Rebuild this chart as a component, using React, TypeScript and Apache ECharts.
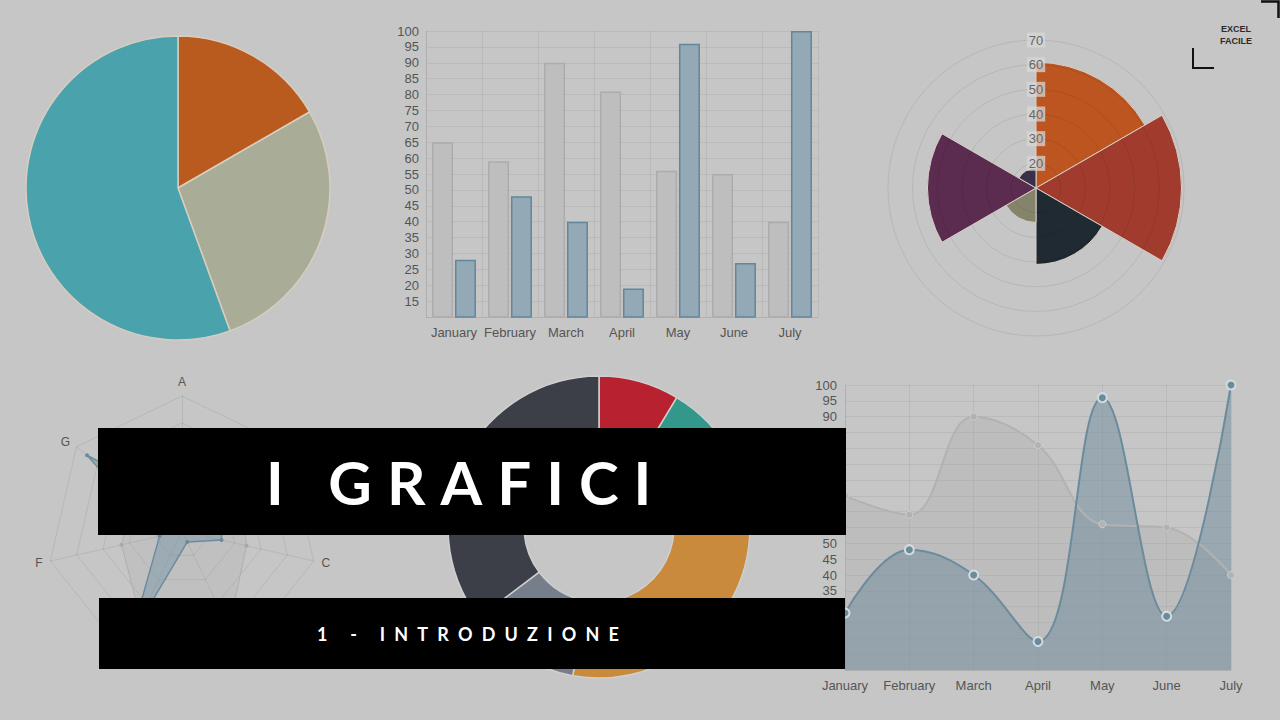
import {useEffect, useRef} from 'react';
import * as echarts from 'echarts';
import type {EChartsOption} from 'echarts';

// same two datasets used by the bar and the line chart
const months = ['January', 'February', 'March', 'April', 'May', 'June', 'July'];
const greyValues = [65, 59, 90, 81, 56, 55, 40];
const blueValues = [28, 48, 40, 19, 96, 27, 100];

// pie, clockwise from 12 o'clock
const pieNames = ['Arancio', 'Sabbia', 'Turchese'];
const pieValues = [30, 50, 100];
const pieColors = ['#b95b1f', '#a9ac97', '#4aa2ad'];

// polar area, clockwise from 12 o'clock
const polarNames = ['Arancio', 'Rosso', 'Blu notte', 'Oliva', 'Viola', 'Prugna'];
const polarValues = [61, 69, 41, 24, 54, 18];
const polarColors = ['#bc5520', '#a13b2e', '#1f2a33', '#85846a', '#5b2c4f', '#3a2f49'];

// radar, clockwise from A
const radarNames = ['A', 'B', 'C', 'D', 'E', 'F', 'G'];
const radarGrey = [40, 65, 59, 90, 81, 56, 55];
const radarBlue = [28, 48, 40, 19, 96, 27, 100];

// doughnut, clockwise from 12 o'clock
const donutNames = ['Rosso', 'Verde', 'Giallo', 'Grigio', 'Grigio scuro'];
const donutValues = [31, 30, 129, 43, 127];
const donutColors = ['#b8212f', '#33978b', '#c98a3c', '#767e8b', '#3d3f48'];

const letterSpacing: Record<string, number> = {
    'I GRAFICI': 15,
    '1 - INTRODUZIONE': 9.2,
};

const labelColor = '#555';
const faint = 'rgba(0,0,0,0.06)';

const App = () => {
    const chartRef = useRef<HTMLDivElement>(null);

    useEffect(() => {
        if (!chartRef.current) return;
        const el = chartRef.current;
        const chart = echarts.init(el, null, {renderer: 'svg'});

        // echarts' radar goes counter-clockwise, so feed it A, G, F, ... B
        const radarOrder = [0, 6, 5, 4, 3, 2, 1];

        const option: EChartsOption = {
            animation: false,
            backgroundColor: '#c6c6c6',
            textStyle: {fontFamily: '"Liberation Sans", Arial, sans-serif'},
            grid: [
                {left: 426, right: 462, top: 31, bottom: 403},
                {left: 845, right: 49, top: 385, bottom: 50},
            ],
            xAxis: [
                {
                    type: 'category',
                    gridIndex: 0,
                    data: months,
                    axisLine: {lineStyle: {color: '#b0b0b0'}},
                    axisTick: {show: false},
                    axisLabel: {color: labelColor, fontSize: 13, margin: 9, interval: 0},
                    splitLine: {show: true, lineStyle: {color: faint}},
                },
                {
                    type: 'category',
                    gridIndex: 1,
                    data: months,
                    boundaryGap: false,
                    axisLine: {lineStyle: {color: '#b0b0b0'}},
                    axisTick: {show: false},
                    axisLabel: {color: labelColor, fontSize: 13, margin: 9, interval: 0},
                    splitLine: {show: true, lineStyle: {color: faint}},
                },
            ],
            yAxis: [
                {
                    type: 'value',
                    gridIndex: 0,
                    min: 10,
                    max: 100,
                    interval: 5,
                    axisLine: {show: true, lineStyle: {color: '#b0b0b0'}},
                    axisTick: {show: false},
                    axisLabel: {color: labelColor, fontSize: 13, margin: 7, showMinLabel: false},
                    splitLine: {lineStyle: {color: faint}},
                },
                {
                    type: 'value',
                    gridIndex: 1,
                    min: 10,
                    max: 100,
                    interval: 5,
                    axisLine: {show: true, lineStyle: {color: '#b0b0b0'}},
                    axisTick: {show: false},
                    axisLabel: {color: labelColor, fontSize: 13, margin: 8, showMinLabel: false},
                    splitLine: {lineStyle: {color: faint}},
                },
            ],
            polar: {center: [1036, 188], radius: 148},
            angleAxis: {
                type: 'category',
                data: polarNames,
                startAngle: 90,
                axisLine: {show: false},
                axisTick: {show: false},
                axisLabel: {show: false},
                splitLine: {show: false},
            },
            radiusAxis: {
                min: 10,
                max: 70,
                interval: 10,
                z: 10,
                axisLine: {show: false},
                axisTick: {show: false},
                splitLine: {show: true, lineStyle: {color: 'rgba(0,0,0,0.08)'}},
                axisLabel: {
                    showMinLabel: false,
                    color: '#666',
                    fontSize: 13,
                    margin: 0,
                    align: 'center',
                    backgroundColor: 'rgba(215,215,215,0.75)',
                    padding: [1, 2],
                },
            },
            radar: {
                center: [182, 531],
                radius: 135,
                startAngle: 90,
                splitNumber: 5,
                shape: 'polygon',
                nameGap: 8,
                indicator: radarOrder.map((i) => ({name: radarNames[i], min: 10, max: 110})),
                axisName: {color: labelColor, fontSize: 12},
                axisLine: {lineStyle: {color: 'rgba(0,0,0,0.08)'}},
                splitLine: {lineStyle: {color: 'rgba(0,0,0,0.08)'}},
                splitArea: {show: false},
            },
            series: [
                {
                    type: 'pie',
                    center: [178, 188],
                    radius: 152,
                    startAngle: 90,
                    silent: true,
                    label: {show: false},
                    itemStyle: {borderColor: '#d8cdbf', borderWidth: 1.5},
                    data: pieNames.map((name, i) => ({name, value: pieValues[i], itemStyle: {color: pieColors[i]}})),
                },
                {
                    type: 'bar',
                    xAxisIndex: 0,
                    yAxisIndex: 0,
                    data: greyValues,
                    barWidth: 21,
                    barGap: '9%',
                    itemStyle: {color: '#bebebe', borderColor: '#acacac', borderWidth: 1.5},
                },
                {
                    type: 'bar',
                    xAxisIndex: 0,
                    yAxisIndex: 0,
                    data: blueValues,
                    barWidth: 21,
                    barGap: '9%',
                    itemStyle: {color: '#93a9b6', borderColor: '#62869a', borderWidth: 1.5},
                },
                {
                    type: 'bar',
                    coordinateSystem: 'polar',
                    barCategoryGap: '0%',
                    itemStyle: {borderColor: '#d8d0c8', borderWidth: 1},
                    data: polarValues.map((value, i) => ({value, itemStyle: {color: polarColors[i]}})),
                },
                {
                    type: 'radar',
                    symbol: 'circle',
                    symbolSize: 4,
                    data: [
                        {
                            value: radarOrder.map((i) => radarGrey[i]),
                            lineStyle: {color: '#b0b0b0', width: 1},
                            itemStyle: {color: '#a8a8a8'},
                            areaStyle: {color: 'rgba(170,170,170,0.3)'},
                        },
                        {
                            value: radarOrder.map((i) => radarBlue[i]),
                            lineStyle: {color: '#6b8b9d', width: 1.5},
                            itemStyle: {color: '#6b8b9d'},
                            areaStyle: {color: 'rgba(110,145,165,0.6)'},
                        },
                    ],
                },
                {
                    type: 'pie',
                    center: [599, 527],
                    radius: [75, 151],
                    startAngle: 90,
                    silent: true,
                    label: {show: false},
                    itemStyle: {borderColor: '#cfcfcf', borderWidth: 1.5},
                    data: donutNames.map((name, i) => ({name, value: donutValues[i], itemStyle: {color: donutColors[i]}})),
                },
                {
                    type: 'line',
                    xAxisIndex: 1,
                    yAxisIndex: 1,
                    data: greyValues,
                    smooth: 0.4,
                    symbol: 'circle',
                    symbolSize: 7,
                    lineStyle: {color: '#b2b2b2', width: 2},
                    itemStyle: {color: '#b2b2b2', borderColor: '#cdcdcd', borderWidth: 1},
                    areaStyle: {color: 'rgba(170,170,170,0.45)'},
                },
                {
                    type: 'line',
                    xAxisIndex: 1,
                    yAxisIndex: 1,
                    data: blueValues,
                    smooth: 0.4,
                    symbol: 'circle',
                    symbolSize: 9,
                    lineStyle: {color: '#6b8b9d', width: 2},
                    itemStyle: {color: '#6b8b9d', borderColor: '#d3dce1', borderWidth: 2},
                    areaStyle: {color: 'rgba(108,138,156,0.7)'},
                },
            ],
            graphic: [
                {type: 'rect', z: 100, shape: {x: 98, y: 428, width: 748, height: 107}, style: {fill: '#000'}},
                {
                    type: 'text',
                    z: 101,
                    x: 266,
                    y: 482,
                    style: {
                        text: 'I GRAFICI',
                        fill: '#fff',
                        font: 'bold 60px Lato, "Open Sans", sans-serif',
                        textAlign: 'left',
                        textVerticalAlign: 'middle',
                    },
                },
                {type: 'rect', z: 100, shape: {x: 99, y: 598, width: 746, height: 71}, style: {fill: '#000'}},
                {
                    type: 'text',
                    z: 101,
                    x: 317,
                    y: 634,
                    style: {
                        text: '1 - INTRODUZIONE',
                        fill: '#fff',
                        font: 'bold 18px Lato, "Open Sans", sans-serif',
                        textAlign: 'left',
                        textVerticalAlign: 'middle',
                    },
                },
                {
                    type: 'text',
                    z: 101,
                    x: 1236,
                    y: 29,
                    style: {text: 'EXCEL', fill: '#2a2a2a', font: 'bold 9px "Liberation Sans", sans-serif', textAlign: 'center', textVerticalAlign: 'middle'},
                },
                {
                    type: 'text',
                    z: 101,
                    x: 1236,
                    y: 41,
                    style: {text: 'FACILE', fill: '#2a2a2a', font: 'bold 9px "Liberation Sans", sans-serif', textAlign: 'center', textVerticalAlign: 'middle'},
                },
                {
                    type: 'polyline',
                    z: 101,
                    shape: {points: [[1193, 48], [1193, 68], [1214, 68]]},
                    style: {stroke: '#111', lineWidth: 2, fill: 'none'},
                },
                {
                    type: 'polyline',
                    z: 101,
                    shape: {points: [[1261, 1.5], [1278.5, 1.5], [1278.5, 18]]},
                    style: {stroke: '#111', lineWidth: 2.5, fill: 'none'},
                },
            ],
        };

        // zrender has no letter spacing, so widen the two banner titles in the svg
        const spaceLetters = () => {
            el.querySelectorAll('text').forEach((t) => {
                const s = letterSpacing[t.textContent ?? ''];
                if (s) t.style.letterSpacing = s + 'px';
            });
        };
        chart.on('finished', spaceLetters);
        chart.setOption(option);
        spaceLetters();

        return () => {
            chart.dispose();
        };
    }, []);

    return <div ref={chartRef} style={{position: 'fixed', left: 0, top: 0, width: 1280, height: 720}} />;
};

export default App;
